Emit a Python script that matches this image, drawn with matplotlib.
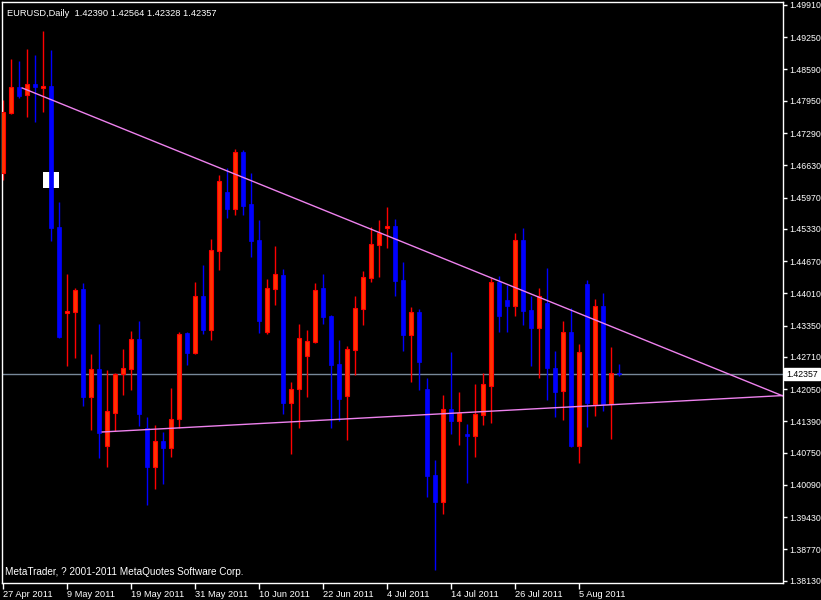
import matplotlib
matplotlib.use('Agg')
import matplotlib.pyplot as plt
import numpy as np

plt.rcParams['font.family'] = ['Liberation Sans', 'DejaVu Sans']

# EURUSD daily candles (bar 0 = 27 Apr 2011)
opens = [1.46472, 1.47700, 1.48232, 1.48068, 1.48293, 1.48212, 1.48253, 1.45367,
         1.43608, 1.43628, 1.44099, 1.41889, 1.42462, 1.40886, 1.41562, 1.42360,
         1.42462, 1.43076, 1.41255, 1.40457, 1.40989, 1.40845, 1.41439, 1.43198,
         1.42789, 1.43956, 1.43260, 1.44876, 1.46084, 1.45736, 1.46902, 1.45838,
         1.45101, 1.43219, 1.44099, 1.44385, 1.41766, 1.42053, 1.42728, 1.43014,
         1.44119, 1.43546, 1.42564, 1.41909, 1.42851, 1.43690, 1.44324, 1.44999,
         1.45347, 1.45388, 1.44283, 1.43158, 1.43628, 1.42053, 1.40293, 1.39740,
         1.41643, 1.41398, 1.41132, 1.41091, 1.41521, 1.42114, 1.44242, 1.43874,
         1.43751, 1.45101, 1.43669, 1.43301, 1.43812, 1.42482, 1.42012, 1.43219,
         1.40886, 1.44201, 1.41746, 1.43751, 1.41746, 1.42390]
highs = [1.47966, 1.48805, 1.48764, 1.49010, 1.48887, 1.49378, 1.48989, 1.45879,
         1.44406, 1.44119, 1.44222, 1.42769, 1.43383, 1.42441, 1.42380, 1.42871,
         1.43239, 1.43444, 1.41480, 1.41316, 1.41173, 1.42073, 1.43219, 1.43219,
         1.44242, 1.44590, 1.45122, 1.46431, 1.46575, 1.46964, 1.46943, 1.46472,
         1.45511, 1.44303, 1.44979, 1.44508, 1.42196, 1.43383, 1.43260, 1.44222,
         1.44406, 1.43567, 1.43055, 1.42933, 1.43956, 1.44467, 1.45367, 1.45511,
         1.45777, 1.45531, 1.44651, 1.43731, 1.43690, 1.42278, 1.40600, 1.41930,
         1.42810, 1.41991, 1.41336, 1.42155, 1.42380, 1.44324, 1.44365, 1.44181,
         1.45245, 1.45347, 1.43956, 1.44119, 1.44529, 1.42830, 1.43444, 1.43710,
         1.42973, 1.44283, 1.43894, 1.44017, 1.42912, 1.42564]
lows = [1.46329, 1.47680, 1.48007, 1.47618, 1.47516, 1.47721, 1.45081, 1.43096,
        1.42523, 1.42687, 1.41705, 1.41214, 1.40641, 1.40457, 1.41193, 1.41930,
        1.42032, 1.41296, 1.39679, 1.40006, 1.40109, 1.40661, 1.41255, 1.42544,
        1.42769, 1.43178, 1.43055, 1.44488, 1.45552, 1.45613, 1.45613, 1.44754,
        1.43199, 1.43178, 1.43771, 1.41541, 1.40723, 1.41255, 1.41889, 1.42994,
        1.43383, 1.41255, 1.41398, 1.41009, 1.42339, 1.43362, 1.44242, 1.44344,
        1.44938, 1.43956, 1.42830, 1.42196, 1.42032, 1.39843, 1.38349, 1.39495,
        1.41132, 1.40907, 1.40129, 1.40661, 1.41316, 1.41357, 1.43219, 1.43219,
        1.43546, 1.43362, 1.42523, 1.42278, 1.41828, 1.41480, 1.41418, 1.40866,
        1.40538, 1.41275, 1.41500, 1.41602, 1.41030, 1.42328]
closes = [1.47721, 1.48232, 1.48048, 1.48293, 1.48232, 1.48253, 1.45347, 1.43117,
          1.43649, 1.44078, 1.41889, 1.42462, 1.41152, 1.41602, 1.42360, 1.42482,
          1.43076, 1.41541, 1.40457, 1.40989, 1.40845, 1.41439, 1.43178, 1.42789,
          1.43956, 1.43260, 1.44897, 1.46309, 1.45736, 1.46902, 1.45797, 1.45081,
          1.43444, 1.44119, 1.44406, 1.41766, 1.42053, 1.43096, 1.43035, 1.44078,
          1.43526, 1.42544, 1.41848, 1.42871, 1.43710, 1.44344, 1.45020, 1.45245,
          1.45388, 1.44262, 1.43158, 1.43628, 1.42605, 1.40272, 1.39740, 1.41643,
          1.41398, 1.41562, 1.41091, 1.41541, 1.42155, 1.44242, 1.43546, 1.43751,
          1.45101, 1.43649, 1.43301, 1.43956, 1.42482, 1.41991, 1.43219, 1.40886,
          1.42810, 1.41766, 1.43751, 1.41746, 1.42380, 1.42357]

date_ticks = [0, 8, 16, 24, 32, 40, 48, 56, 64, 72]
date_labels = ['27 Apr 2011', '9 May 2011', '19 May 2011', '31 May 2011', '10 Jun 2011',
               '22 Jun 2011', '4 Jul 2011', '14 Jul 2011', '26 Jul 2011', '5 Aug 2011']
price_ticks = [1.49910, 1.49250, 1.48590, 1.47950, 1.47290, 1.46630, 1.45970, 1.45330,
               1.44670, 1.44010, 1.43350, 1.42710, 1.42050, 1.41390, 1.40750, 1.40090,
               1.39430, 1.38770, 1.38130]

# trend lines (bar index, price)
upper_x = [2.4, 97.5]
upper_y = [1.48212, 1.41909]
lower_x = [12.4, 97.5]
lower_y = [1.41173, 1.41919]
bid = 1.42357
# white marker object near bar 6
box_x = [5.0, 7.0]
box_y = [1.46166, 1.46493]

header = 'EURUSD,Daily  1.42390 1.42564 1.42328 1.42357'
footer = 'MetaTrader, ? 2001-2011 MetaQuotes Software Corp.'
fs = 6.7
fs_price = 6.3

fig = plt.figure(figsize=(8.21, 6.0), dpi=100, facecolor='black')
ax = fig.add_axes([2 / 821, 17 / 600, 781 / 821, 581 / 600], facecolor='black')

x = np.arange(len(opens))
o = np.array(opens)
c = np.array(closes)
h = np.array(highs)
l = np.array(lows)
up = c >= o

ax.add_patch(plt.Rectangle((box_x[0], box_y[0]), box_x[1] - box_x[0], box_y[1] - box_y[0],
                           facecolor='white', edgecolor='none', zorder=1))

ax.vlines(x[up], l[up], h[up], color='#ff0000', linewidth=1, zorder=2)
ax.vlines(x[~up], l[~up], h[~up], color='#0000ff', linewidth=1, zorder=2)

body = np.maximum(np.abs(c - o), 0.0002)
ax.bar(x[up], body[up], bottom=np.minimum(o, c)[up], width=0.6,
       color='#ff3300', edgecolor='#ff0000', linewidth=0.8, zorder=3)
ax.bar(x[~up], body[~up], bottom=np.minimum(o, c)[~up], width=0.6,
       color='#0000ff', edgecolor='#0000ff', linewidth=0.5, zorder=3)

ax.plot(upper_x, upper_y, color='#ee82ee', linewidth=1, zorder=4)
ax.plot(lower_x, lower_y, color='#ee82ee', linewidth=1, zorder=4)
ax.axhline(bid, color='#778899', linewidth=1, zorder=1)

ax.set_xlim(-0.125, 97.5)
ax.set_ylim(1.38083, 1.49971)

for s in ax.spines.values():
    s.set_color('white')
    s.set_linewidth(1)

ax.yaxis.tick_right()
ax.set_yticks(price_ticks)
ax.set_yticklabels(['%.5f' % p for p in price_ticks])
ax.set_xticks(date_ticks)
ax.set_xticklabels(date_labels, ha='left')
ax.tick_params(colors='white', width=1)
ax.tick_params(axis='y', length=3, pad=1.5, labelsize=fs_price)
ax.tick_params(axis='x', length=4, pad=1, labelsize=fs)

# current price label on the axis
ax.text(1.004, bid, '%.5f' % bid, transform=ax.get_yaxis_transform(), color='black',
        fontsize=fs_price, va='center', ha='left',
        bbox=dict(boxstyle='square,pad=0.2', facecolor='white', edgecolor='white'))

ax.text(0.006, 0.988, header, transform=ax.transAxes, color='white', fontsize=fs,
        va='top', ha='left')
ax.text(0.004, 0.01, footer, transform=ax.transAxes, color='white', fontsize=7.2,
        va='bottom', ha='left')

plt.savefig('out.png', dpi=100, facecolor='black')
